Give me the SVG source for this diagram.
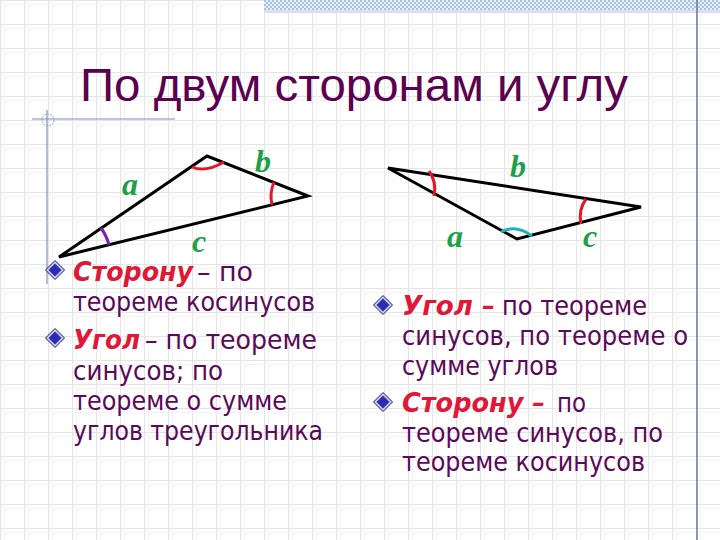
<svg xmlns="http://www.w3.org/2000/svg" width="720" height="540" viewBox="0 0 720 540">
<defs>
<pattern id="grid" width="24" height="24" patternUnits="userSpaceOnUse">
<path d="M0.5 0V24M0 0.5H24" stroke="#e3e3e3" stroke-width="1" fill="none"/>
<path d="M4.5 0V24M0 4.5H24" stroke="#f4f4f4" stroke-width="1" fill="none"/>
</pattern>
<pattern id="check" width="4" height="4" patternUnits="userSpaceOnUse">
<rect width="4" height="4" fill="#e6eef8"/>
<rect width="2" height="2" fill="#a9c2e2"/>
<rect x="2" y="2" width="2" height="2" fill="#a9c2e2"/>
</pattern>
<symbol id="bullet" viewBox="-10 -10 20 20" overflow="visible">
<path d="M0 -9.5L9.5 0L0 9.5L-9.5 0Z" fill="#c8c8f0" stroke="#1c1c60" stroke-width="1"/>
<path d="M0 -6.5L6.5 0L0 6.5L-6.5 0Z" fill="#2c2cb0"/>
</symbol>
<style>
.edge{stroke:#000;stroke-width:3;fill:none;stroke-linejoin:miter}
.arcr{stroke:#e01828;stroke-width:3;fill:none}
.lbl{font-family:"Liberation Serif",serif;font-weight:bold;font-style:italic;font-size:32px;fill:#1ea04a}
.body{font-family:"DejaVu Sans Condensed","DejaVu Sans","Liberation Sans",sans-serif;font-size:27px;fill:#5a0a58}
.em{font-family:"DejaVu Sans Condensed","DejaVu Sans","Liberation Sans",sans-serif;font-size:27px;font-weight:bold;font-style:italic;fill:#e01838}
.title{font-family:"Liberation Sans Narrow","Liberation Sans",sans-serif;font-size:46px;fill:#5c0050}
.deco{stroke:#7d8fbd;stroke-width:1.2;fill:none}
</style>
</defs>
<rect width="720" height="540" fill="#ffffff"/>
<rect width="720" height="540" fill="url(#grid)"/>
<g id="decoration">
<rect x="264" y="0" width="456" height="10" fill="url(#check)"/>
<rect x="264" y="10" width="456" height="3" fill="#dcdcf4"/>
<line x1="697" y1="0" x2="697" y2="540" stroke="#6e7890" stroke-width="1.5"/>
<line class="deco" x1="32" y1="119" x2="175" y2="119"/>
<line class="deco" x1="47" y1="110" x2="47" y2="284"/>
<circle cx="48" cy="120" r="6" fill="none" stroke="#9aa4c0" stroke-width="1" stroke-dasharray="2 1"/>
</g>
<g id="title">
<text class="title" x="80" y="101" textLength="548" lengthAdjust="spacingAndGlyphs">По двум сторонам и углу</text>
</g>
<g id="connectors">
<g id="left-triangle-edges">
<path class="edge" d="M59 257L207 156L308 196Z"/>
</g>
<g id="right-triangle-edges">
<path class="edge" d="M388 168L641 207L517 239Z"/>
</g>
</g>
<g id="left-triangle">
<path class="arcr" d="M192 167Q205 173 224 162"/>
<path class="arcr" d="M274 182A37 37 0 0 0 272 205"/>
<path d="M101 228A51 51 0 0 1 109 245" stroke="#7a20b0" stroke-width="3" fill="none"/>
<text class="lbl" x="122" y="195">a</text>
<text class="lbl" x="255" y="172">b</text>
<text class="lbl" x="192" y="252">c</text>
</g>
<g id="right-triangle">
<path class="arcr" d="M429 171Q437 182 434 196"/>
<path class="arcr" d="M586 199Q578 210 581 224"/>
<path d="M501 232Q516 224 532 236" stroke="#20b0b8" stroke-width="3" fill="none"/>
<text class="lbl" x="510" y="177">b</text>
<text class="lbl" x="447" y="247">a</text>
<text class="lbl" x="583" y="247">c</text>
</g>
<g id="left-text">
<use href="#bullet" x="45" y="260" width="20" height="20"/>
<text class="em" x="73" y="281" textLength="120" lengthAdjust="spacingAndGlyphs">Сторону</text>
<text class="body" x="197" y="281" textLength="56" lengthAdjust="spacingAndGlyphs">– по</text>
<text class="body" x="73" y="311" textLength="242" lengthAdjust="spacingAndGlyphs">теореме косинусов</text>
<use href="#bullet" x="45" y="328" width="20" height="20"/>
<text class="em" x="73" y="349" textLength="67" lengthAdjust="spacingAndGlyphs">Угол</text>
<text class="body" x="145" y="349" textLength="172" lengthAdjust="spacingAndGlyphs">– по теореме</text>
<text class="body" x="73" y="380" textLength="150" lengthAdjust="spacingAndGlyphs">синусов; по</text>
<text class="body" x="73" y="410" textLength="214" lengthAdjust="spacingAndGlyphs">теореме о сумме</text>
<text class="body" x="73" y="440" textLength="250" lengthAdjust="spacingAndGlyphs">углов треугольника</text>
</g>
<g id="right-text">
<use href="#bullet" x="373" y="295" width="20" height="20"/>
<text class="em" x="402" y="315" textLength="93" lengthAdjust="spacingAndGlyphs">Угол –</text>
<text class="body" x="502" y="315" textLength="145" lengthAdjust="spacingAndGlyphs">по теореме</text>
<text class="body" x="402" y="345" textLength="286" lengthAdjust="spacingAndGlyphs">синусов, по теореме о</text>
<text class="body" x="402" y="375" textLength="156" lengthAdjust="spacingAndGlyphs">сумме углов</text>
<use href="#bullet" x="373" y="392" width="20" height="20"/>
<text class="em" x="402" y="412" textLength="143" lengthAdjust="spacingAndGlyphs">Сторону –</text>
<text class="body" x="557" y="412" textLength="29" lengthAdjust="spacingAndGlyphs">по</text>
<text class="body" x="402" y="442" textLength="261" lengthAdjust="spacingAndGlyphs">теореме синусов, по</text>
<text class="body" x="402" y="471" textLength="243" lengthAdjust="spacingAndGlyphs">теореме косинусов</text>
</g>
</svg>
